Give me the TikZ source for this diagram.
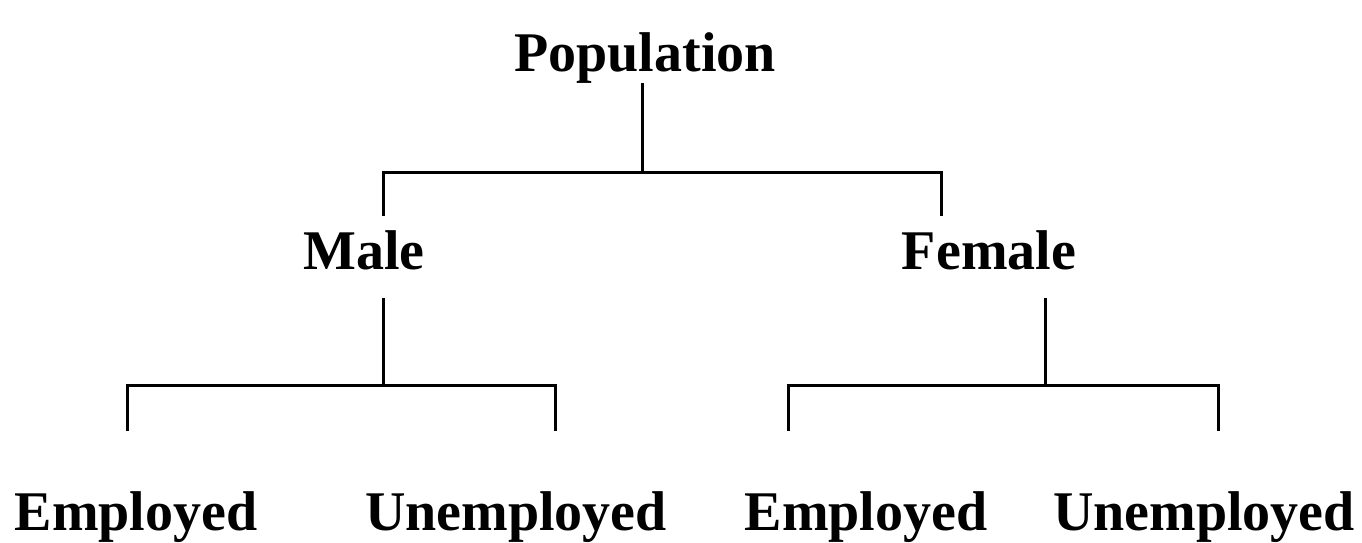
\documentclass[tikz,border=0pt]{standalone}
\usepackage{fontspec}
\setmainfont{Liberation Serif}
\begin{document}
\begin{tikzpicture}[x=1pt,y=-1pt,
  lbl/.style={font=\bfseries\fontsize{56}{60}\selectfont, inner sep=0pt, anchor=base},
  conn/.style={line width=3pt, line join=miter}]
\useasboundingbox[fill=white] (0,0) rectangle (1362,543);
% labels
\node[lbl] (pop) at (645,71) {Population};
\node[lbl] (male) at (364,269) {Male};
\node[lbl] (female) at (989,269) {Female};
\node[lbl] (me) at (136,530) {Employed};
\node[lbl] (mu) at (516,530) {Unemployed};
\node[lbl] (fe) at (866,530) {Employed};
\node[lbl] (fu) at (1204,530) {Unemployed};
% junction coordinates
\coordinate (jt) at (642,172);
\coordinate (mt) at (383,216);
\coordinate (ft) at (941,216);
\coordinate (ms) at (383,298);
\coordinate (jm) at (383,385);
\coordinate (mel) at (127,431);
\coordinate (mur) at (555,431);
\coordinate (fs) at (1045,298);
\coordinate (jf) at (1045,385);
\coordinate (fel) at (788,431);
\coordinate (fur) at (1218,431);
% connectors
\draw[conn] (pop.south -| jt) -- (jt);
\draw[conn] (mt) |- (jt) -| (ft);
\draw[conn] (ms) -- (jm);
\draw[conn] (mel) |- (jm) -| (mur);
\draw[conn] (fs) -- (jf);
\draw[conn] (fel) |- (jf) -| (fur);
\end{tikzpicture}
\end{document}
